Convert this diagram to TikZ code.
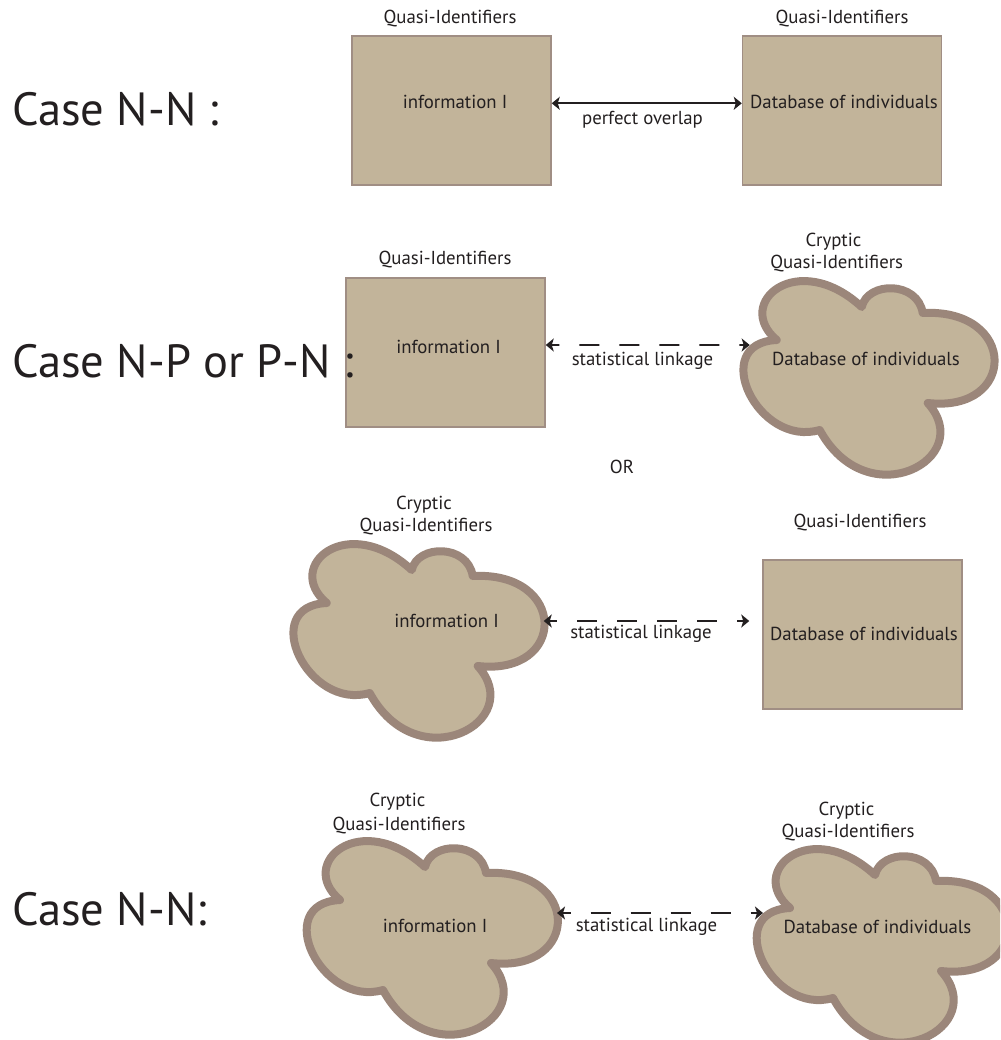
\documentclass[tikz,border=0pt]{standalone}
\usepackage{fontspec}
\setmainfont{PT Sans}
\usetikzlibrary{arrows.meta}
\definecolor{tanfill}{HTML}{C2B49A}
\definecolor{cloudedge}{HTML}{9B867A}
\definecolor{boxedge}{HTML}{A08E84}
\definecolor{ink}{HTML}{231F20}
\begin{document}
\begin{tikzpicture}[x=0.02cm,y=-0.02cm,
  qibox/.style={draw=boxedge, line width=0.03cm, fill=tanfill, minimum width=3.98cm, minimum height=2.98cm, inner sep=0pt},
  small/.style={text=ink, font=\fontsize{10.7}{13}\selectfont, inner sep=0pt, anchor=base},
  big/.style={text=ink, font=\fontsize{26.5}{32}\selectfont, inner sep=0pt, anchor=base west},
  link/.style={draw=ink, line width=0.035cm, {Stealth[length=0.16cm,width=0.26cm,inset=0.04cm]}-{Stealth[length=0.16cm,width=0.26cm,inset=0.04cm]}},
  dashlink/.style={link, dash pattern=on 0.4cm off 0.4cm, dash phase=0.24cm},
  qicloud/.pic={
    \path[draw=cloudedge, line width=0.16cm, fill=tanfill, line join=round]
      (-91,-38) .. controls (-135,-75) and (-70,-130) .. (-6,-71)
      .. controls (0,-97) and (50,-97) .. (55,-65)
      .. controls (150,-70) and (150,35) .. (60,25)
      .. controls (110,80) and (0,140) .. (-48,52)
      .. controls (-110,70) and (-160,-35) .. (-91,-38) -- cycle;
    \coordinate (-e) at (126,-20);
    \coordinate (-w) at (-118,-33);
  }
]
\useasboundingbox (0,0) rectangle (1000,1040);
\clip (0,0) rectangle (1000,1040);

% Row 1
\node[qibox] (b1) at (451.5,110.5) {};
\node[qibox] (b2) at (842,110.5) {};
\node[big] (case1) at (12,126) {Case N-N :};
\node[small] (q1) at (450,24) {Quasi-Identifiers};
\node[small] (q2) at (842,24) {Quasi-Identifiers};
\node[small] (i1) at (455,109) {information I};
\node[small] (d1) at (844,109) {Database of individuals};
\draw[link] ([yshift=0.144cm]b1.east) -- ([yshift=0.144cm]b2.west);
\node[small] (po) at (642.5,125) {perfect overlap};

% Row 2
\node[qibox] (b3) at (445.5,352.5) {};
\node[big] (case2) at (12,377) {Case N-P or P-N :};
\node[small] (q3) at (445,265) {Quasi-Identifiers};
\node[small] (i2) at (448.5,353) {information I};
\pic (c2) at (867.7,378) {qicloud};
\node[small] (cr2) at (833.5,246.5) {Cryptic};
\node[small] (cq2) at (836.7,269) {Quasi-Identifiers};
\node[small] (d2) at (866,365) {Database of individuals};
\draw[dashlink] ([yshift=0.15cm]b3.east) -- (c2-w);
\node[small] (sl2) at (642.5,365) {statistical linkage};

\node[small] (or) at (622,473) {OR};

% Row 3
\pic (c3) at (417.7,641) {qicloud};
\node[small] (cr3) at (424,509) {Cryptic};
\node[small] (cq3) at (426,531.5) {Quasi-Identifiers};
\node[small] (i3) at (446.5,627) {information I};
\node[qibox] (b4) at (862.5,634.5) {};
\node[small] (q4) at (860,527) {Quasi-Identifiers};
\node[small] (d3) at (864,640) {Database of individuals};
\draw[dashlink, shorten >=0.26cm] (c3-e) -- (b4.west |- c3-e);
\node[small] (sl3) at (641,638) {statistical linkage};

% Row 4
\node[big] (case4) at (12,925) {Case N-N:};
\pic (c4) at (431,938) {qicloud};
\pic (c5) at (881,946) {qicloud};
\node[small] (cr4) at (397.5,806) {Cryptic};
\node[small] (cq4) at (399,830) {Quasi-Identifiers};
\node[small] (i4) at (435,932) {information I};
\node[small] (cr5) at (846.5,815) {Cryptic};
\node[small] (cq5) at (848,837) {Quasi-Identifiers};
\node[small] (d4) at (877.5,933) {Database of individuals};
\draw[dashlink] (c4-e |- c5-w) -- (c5-w);
\node[small] (sl4) at (646.5,931) {statistical linkage};
\end{tikzpicture}
\end{document}
